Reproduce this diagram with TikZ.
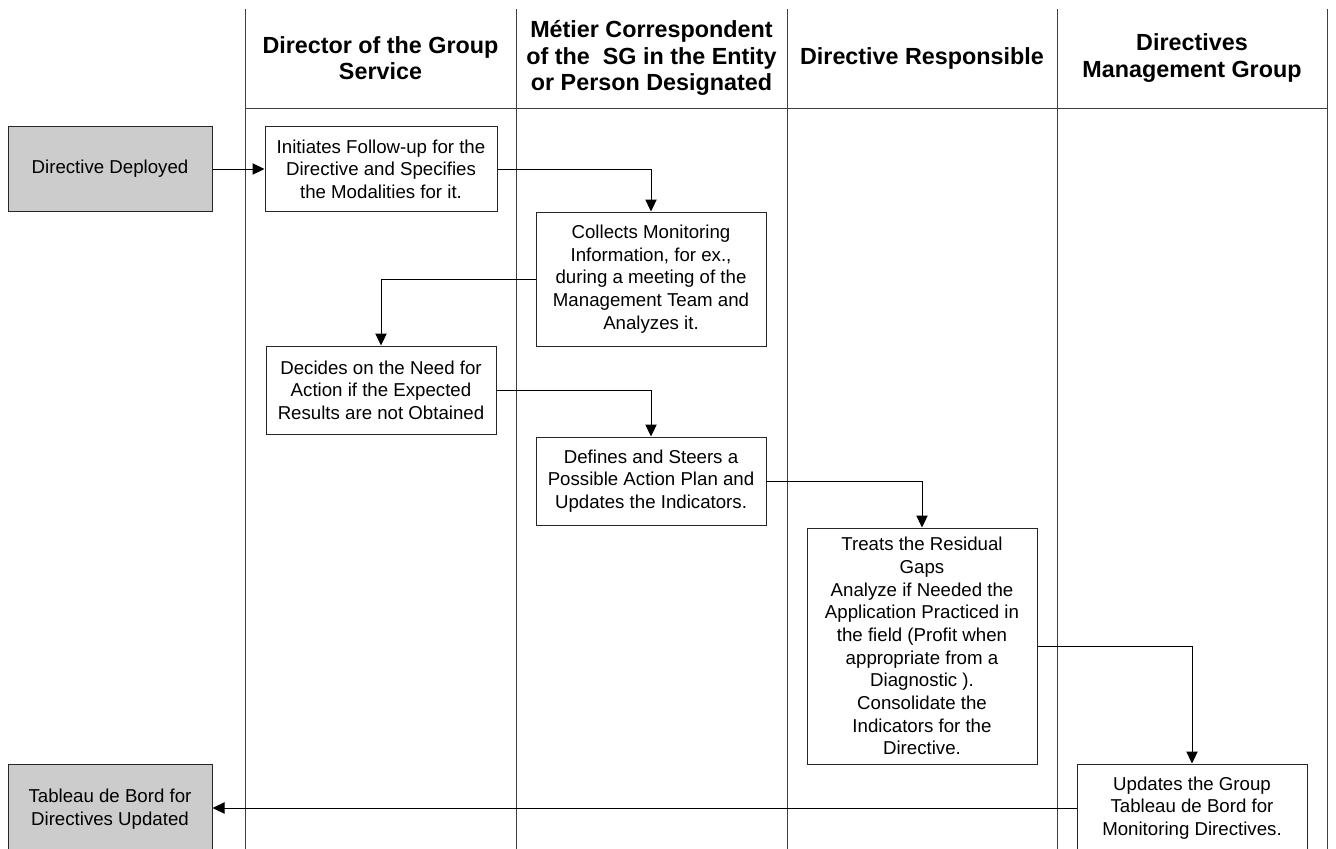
\documentclass[tikz,border=0pt]{standalone}
\usepackage{fontspec}
\setmainfont{Liberation Sans}
\usetikzlibrary{arrows.meta}

\begin{document}
\begin{tikzpicture}[x=0.75pt,y=-0.75pt,
    task/.style={draw=black!85, line width=0.75pt, fill=white, align=center, inner sep=0pt,
      minimum width=172.5pt, minimum height=66pt, font=\fontsize{14}{17}\selectfont},
    event/.style={task, fill=black!20, minimum width=153pt},
    lane/.style={align=center, inner sep=0pt, font=\bfseries\fontsize{17.5}{20}\selectfont},
    flow/.style={draw=black, line width=0.75pt, -{Triangle[length=9pt,width=8.5pt]}}]
    % Setup
    \useasboundingbox (0,0) rectangle (1336,849);
    \clip (0,0) rectangle (1336,849);

    % Swimlanes
    \foreach \x in {245,516,787,1057,1327} {
        \draw[black!75, line width=0.75pt] (\x,9) -- (\x,849);
    }
    \draw[black!75, line width=0.75pt] (245,109) -- (1327,109);

    % Lane headers
    \node[lane] (hdir) at (380.5,58) {Director of the Group\\Service};
    \node[lane] (hcor) at (651.5,58) {Métier Correspondent\\of the\ \ SG in the Entity\\or Person Designated};
    \node[lane] (hres) at (922,58) {Directive Responsible};
    \node[lane] (hgrp) at (1192,58) {Directives\\Management Group};

    % Start and end events (grey)
    \node[event, minimum height=63pt] (dep) at (110,169) {Directive Deployed};
    \node[event, minimum height=67.5pt] (tab) at (110,809) {Tableau de Bord for\\Directives Updated};

    % Tasks
    \node[task, minimum width=174pt, minimum height=63pt] (init) at (381,169)
        {Initiates Follow-up for the\\Directive and Specifies\\the Modalities for it.};
    \node[task, minimum height=100.5pt] (coll) at (651,279)
        {Collects Monitoring\\Information, for ex.,\\during a meeting of the\\Management Team and\\Analyzes it.};
    \node[task] (dec) at (381,390)
        {Decides on the Need for\\Action if the Expected\\Results are not Obtained};
    \node[task] (defi) at (651,481)
        {Defines and Steers a\\Possible Action Plan and\\Updates the Indicators.};
    \node[task, minimum height=177pt] (treat) at (922,646)
        {Treats the Residual\\Gaps\\Analyze if Needed the\\Application Practiced in\\the field (Profit when\\appropriate from a\\Diagnostic ).\\Consolidate the\\Indicators for the\\Directive.};
    \node[task] (upd) at (1192,808)
        {Updates the Group\\Tableau de Bord for\\Monitoring Directives.};

    % Flow
    \draw[flow] (dep) -- (init);
    \draw[flow] (init.east) -| (coll.north);
    \draw[flow] (coll.west) -| (dec.north);
    \draw[flow] (dec.east) -| (defi.north);
    \draw[flow] (defi.east) -| (treat.north);
    \draw[flow] (treat.east) -| (upd.north);
    \draw[flow] (upd.west) -- (upd.west -| tab.east);
\end{tikzpicture}
\end{document}
